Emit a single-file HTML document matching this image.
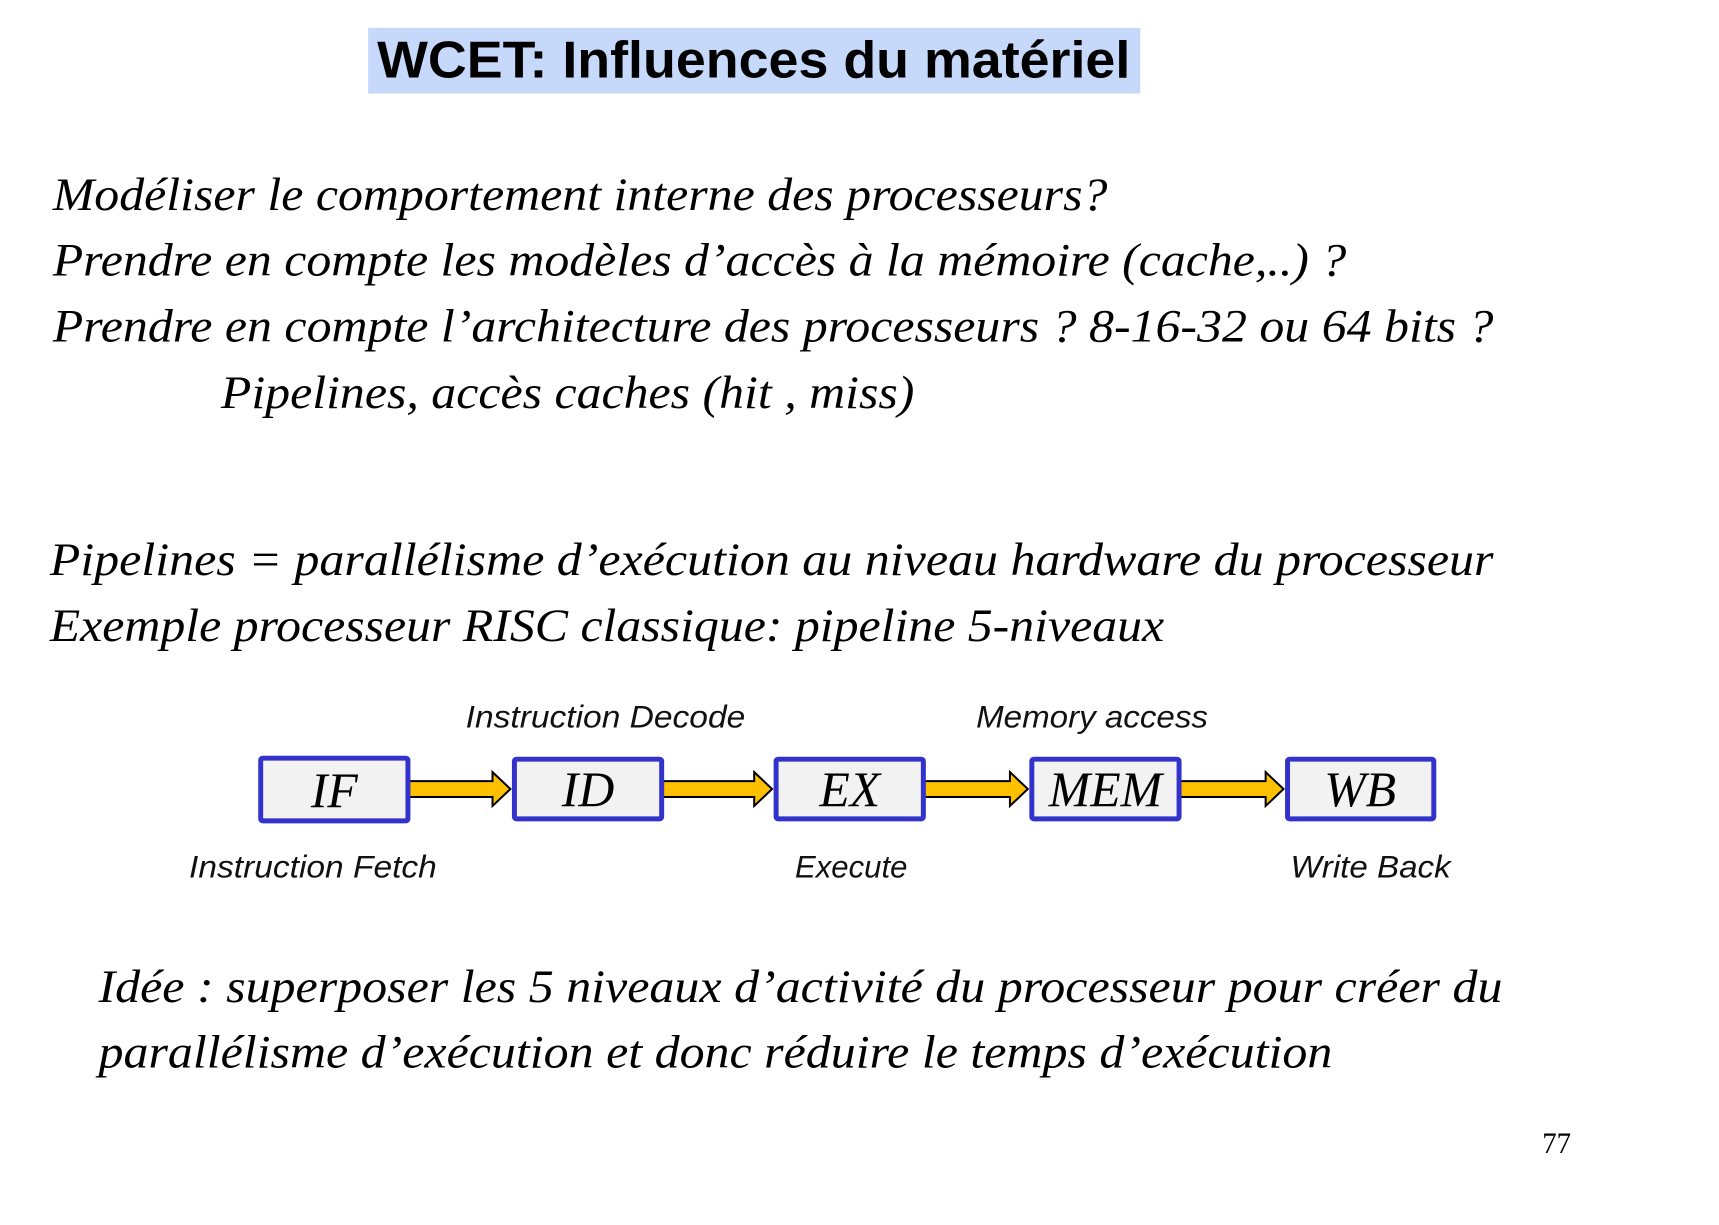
<!DOCTYPE html>
<html><head><meta charset="utf-8"><style>html,body{margin:0;padding:0;background:#fff}svg{display:block}</style></head>
<body>
<svg width="1719" height="1225" viewBox="0 0 1719 1225" xmlns="http://www.w3.org/2000/svg">
<g transform="scale(0.995)">
<rect x="370" y="28" width="776" height="66" fill="#c6d9fb"/>
<text x="379" y="78" font-family="Liberation Sans, sans-serif" font-weight="bold" font-size="52" textLength="757" lengthAdjust="spacingAndGlyphs">WCET: Influences du matériel</text>
<g font-family="Liberation Serif, serif" font-style="italic" font-size="47" fill="#000">
<text x="53" y="211" textLength="1060" lengthAdjust="spacingAndGlyphs">Modéliser le comportement interne des processeurs?</text>
<text x="53" y="277" textLength="1300" lengthAdjust="spacingAndGlyphs">Prendre en compte les modèles d’accès à la mémoire (cache,..) ?</text>
<text x="53" y="343" textLength="1448" lengthAdjust="spacingAndGlyphs">Prendre en compte l’architecture des processeurs ? 8-16-32 ou 64 bits ?</text>
<text x="222" y="410" textLength="697" lengthAdjust="spacingAndGlyphs">Pipelines, accès caches (hit , miss)</text>
<text x="50" y="578" textLength="1451" lengthAdjust="spacingAndGlyphs">Pipelines = parallélisme d’exécution au niveau hardware du processeur</text>
<text x="50" y="644" textLength="1120" lengthAdjust="spacingAndGlyphs">Exemple processeur RISC classique: pipeline 5-niveaux</text>
<text x="99" y="1007" textLength="1411" lengthAdjust="spacingAndGlyphs">Idée : superposer les 5 niveaux d’activité du processeur pour créer du</text>
<text x="99" y="1073" textLength="1240" lengthAdjust="spacingAndGlyphs">parallélisme d’exécution et donc réduire le temps d’exécution</text>
</g>
<text x="1550" y="1159" font-family="Liberation Serif, serif" font-size="30" textLength="29" lengthAdjust="spacingAndGlyphs">77</text>
<g font-family="Liberation Sans, sans-serif" font-style="italic" font-size="32" fill="#111">
<text x="468" y="731" textLength="281" lengthAdjust="spacingAndGlyphs">Instruction Decode</text>
<text x="981" y="731" textLength="233" lengthAdjust="spacingAndGlyphs">Memory access</text>
<text x="190" y="882" textLength="249" lengthAdjust="spacingAndGlyphs">Instruction Fetch</text>
<text x="799" y="882" textLength="113" lengthAdjust="spacingAndGlyphs">Execute</text>
<text x="1297" y="882" textLength="161" lengthAdjust="spacingAndGlyphs">Write Back</text>
</g>
<g fill="#ffc000" stroke="#000" stroke-width="2">
<polygon points="411,785 495,785 495,776 513,793 495,810 495,801 411,801"/>
<polygon points="666,785 758,785 758,776 776,793 758,810 758,801 666,801"/>
<polygon points="929,785 1015,785 1015,776 1033,793 1015,810 1015,801 929,801"/>
<polygon points="1186,785 1272,785 1272,776 1290,793 1272,810 1272,801 1186,801"/>
</g>
<g fill="#f2f2f2" stroke="#3333cc" stroke-width="5">
<rect x="262" y="762" width="148" height="63" rx="2"/>
<rect x="517" y="763" width="148" height="60" rx="2"/>
<rect x="780" y="763" width="148" height="60" rx="2"/>
<rect x="1037" y="763" width="148" height="60" rx="2"/>
<rect x="1294" y="763" width="147" height="60" rx="2"/>
</g>
<g font-family="Liberation Serif, serif" font-style="italic" font-size="50" text-anchor="middle" fill="#000">
<text x="336" y="811">IF</text>
<text x="591" y="810">ID</text>
<text x="854" y="810">EX</text>
<text x="1111" y="810">MEM</text>
<text x="1367" y="810">WB</text>
</g>
</g>
</svg>
</body></html>
